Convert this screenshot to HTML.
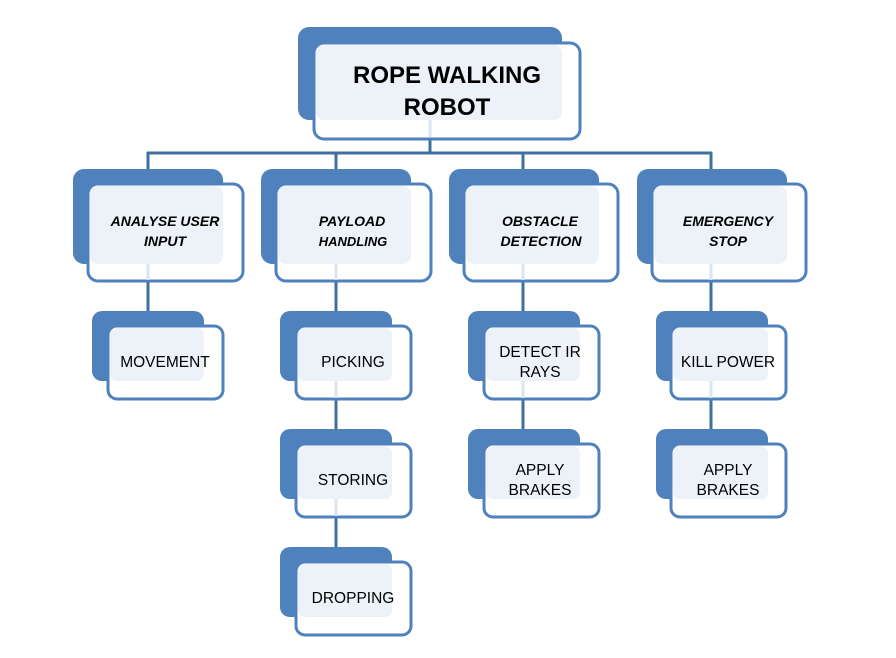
<!DOCTYPE html>
<html><head><meta charset="utf-8"><style>
html,body{margin:0;padding:0;background:#fff;}
svg{display:block;}
text{font-family:"Liberation Sans",sans-serif;fill:#000;text-anchor:middle;}
.t{font-size:24px;font-weight:bold;}
.l1{font-size:14px;font-weight:bold;font-style:italic;}
.l2{font-size:15.5px;}
</style></head><body>
<svg width="896" height="658" viewBox="0 0 896 658">
<defs>
<style>
.bk{fill:#4f81bd;}
.fr{fill:#fff;stroke:#4f81bd;stroke-width:3;}
.lt{fill:#edf2f9;}
.ln{stroke:#41709f;stroke-width:3;fill:none;}
.lf{stroke:#dbe4f0;stroke-width:3;}
</style>
</defs>
<path class="ln" d="M430 139V153M147 153H712M148 152V169M336 152V169M523 152V169M711 152V169"/>
<path class="ln" d="M148 282V311M336 282V311M523 282V311M711 282V311M336 400V429M523 400V429M711 400V429M336 518V547"/>

<rect class="bk" x="298" y="27" width="264" height="93" rx="11"/>
<rect class="fr" x="314" y="43" width="266" height="96" rx="10"/>
<rect class="lt" x="316" y="45" width="246" height="75" rx="8"/>
<line class="lf" x1="430" y1="120" x2="430" y2="137"/>
<text class="t" x="447" y="83">ROPE WALKING</text>
<text class="t" x="447" y="115">ROBOT</text>

<g>
<rect class="bk" x="73" y="169" width="150" height="95" rx="11"/>
<rect class="fr" x="88" y="184" width="155" height="97" rx="10"/>
<rect class="lt" x="90" y="186" width="133" height="78" rx="8"/>
<line class="lf" x1="148" y1="264" x2="148" y2="280"/>
<text class="l1" x="165" y="226">ANALYSE USER</text>
<text class="l1" x="165" y="246">INPUT</text>
</g>
<g>
<rect class="bk" x="261" y="169" width="150" height="95" rx="11"/>
<rect class="fr" x="276" y="184" width="155" height="97" rx="10"/>
<rect class="lt" x="278" y="186" width="133" height="78" rx="8"/>
<line class="lf" x1="336" y1="264" x2="336" y2="280"/>
<text class="l1" x="352" y="226">PAYLOAD</text>
<text class="l1" x="353" y="246" style="font-size:13px">HANDLING</text>
</g>
<g>
<rect class="bk" x="449" y="169" width="150" height="95" rx="11"/>
<rect class="fr" x="464" y="184" width="154" height="97" rx="10"/>
<rect class="lt" x="466" y="186" width="133" height="78" rx="8"/>
<line class="lf" x1="523" y1="264" x2="523" y2="280"/>
<text class="l1" x="540" y="226">OBSTACLE</text>
<text class="l1" x="541" y="246">DETECTION</text>
</g>
<g>
<rect class="bk" x="637" y="169" width="150" height="95" rx="11"/>
<rect class="fr" x="652" y="184" width="154" height="97" rx="10"/>
<rect class="lt" x="654" y="186" width="133" height="78" rx="8"/>
<line class="lf" x1="711" y1="264" x2="711" y2="280"/>
<text class="l1" x="728" y="226">EMERGENCY</text>
<text class="l1" x="728" y="246">STOP</text>
</g>

<g>
<rect class="bk" x="92" y="311" width="112" height="70" rx="10"/>
<rect class="fr" x="108" y="326" width="115" height="73" rx="9"/>
<rect class="lt" x="110" y="328" width="94" height="53" rx="7"/>
<text class="l2" x="165" y="367">MOVEMENT</text>
</g>
<g>
<rect class="bk" x="280" y="311" width="112" height="70" rx="10"/>
<rect class="fr" x="296" y="326" width="115" height="73" rx="9"/>
<rect class="lt" x="298" y="328" width="94" height="53" rx="7"/>
<line class="lf" x1="336" y1="381" x2="336" y2="398"/>
<text class="l2" x="353" y="367">PICKING</text>
</g>
<g>
<rect class="bk" x="280" y="429" width="112" height="70" rx="10"/>
<rect class="fr" x="296" y="444" width="115" height="73" rx="9"/>
<rect class="lt" x="298" y="446" width="94" height="53" rx="7"/>
<line class="lf" x1="336" y1="499" x2="336" y2="516"/>
<text class="l2" x="353" y="485">STORING</text>
</g>
<g>
<rect class="bk" x="280" y="547" width="112" height="70" rx="10"/>
<rect class="fr" x="296" y="562" width="115" height="73" rx="9"/>
<rect class="lt" x="298" y="564" width="94" height="53" rx="7"/>
<text class="l2" x="353" y="603">DROPPING</text>
</g>
<g>
<rect class="bk" x="468" y="311" width="112" height="70" rx="10"/>
<rect class="fr" x="484" y="326" width="115" height="73" rx="9"/>
<rect class="lt" x="486" y="328" width="94" height="53" rx="7"/>
<line class="lf" x1="523" y1="381" x2="523" y2="398"/>
<text class="l2" x="540" y="357">DETECT IR</text>
<text class="l2" x="540" y="377">RAYS</text>
</g>
<g>
<rect class="bk" x="468" y="429" width="112" height="70" rx="10"/>
<rect class="fr" x="484" y="444" width="115" height="73" rx="9"/>
<rect class="lt" x="486" y="446" width="94" height="53" rx="7"/>
<text class="l2" x="540" y="475">APPLY</text>
<text class="l2" x="540" y="495">BRAKES</text>
</g>
<g>
<rect class="bk" x="656" y="311" width="112" height="70" rx="10"/>
<rect class="fr" x="671" y="326" width="115" height="73" rx="9"/>
<rect class="lt" x="673" y="328" width="95" height="53" rx="7"/>
<line class="lf" x1="711" y1="381" x2="711" y2="398"/>
<text class="l2" x="728" y="367">KILL POWER</text>
</g>
<g>
<rect class="bk" x="656" y="429" width="112" height="70" rx="10"/>
<rect class="fr" x="671" y="444" width="115" height="73" rx="9"/>
<rect class="lt" x="673" y="446" width="95" height="53" rx="7"/>
<text class="l2" x="728" y="475">APPLY</text>
<text class="l2" x="728" y="495">BRAKES</text>
</g>
</svg>
</body></html>
